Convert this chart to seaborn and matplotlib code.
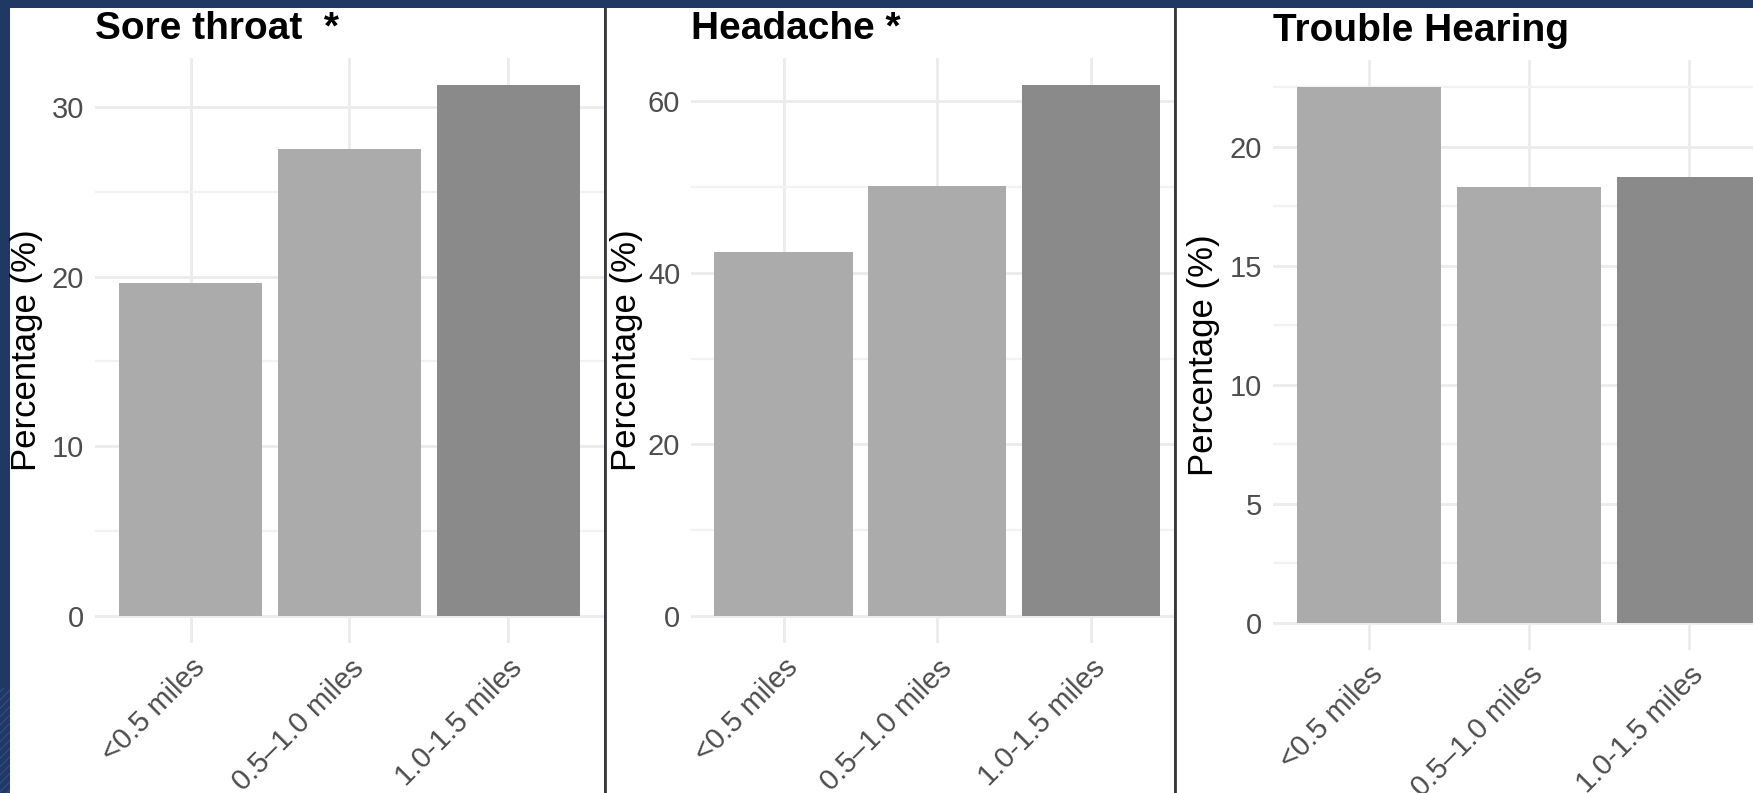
import matplotlib
matplotlib.use("Agg")
import matplotlib.pyplot as plt
import seaborn as sns
import pandas as pd
from matplotlib.patches import Rectangle
from matplotlib.lines import Line2D
from matplotlib.ticker import AutoMinorLocator

# %% — Data
distances = ["<0.5 miles", "0.5–1.0 miles", "1.0-1.5 miles"]
titles = ["Sore throat  *", "Headache *", "Trouble Hearing"]
sore_throat = [19.6, 27.5, 31.3]
headache = [42.4, 50.1, 61.9]
trouble_hearing = [22.5, 18.3, 18.7]
y_ticks = [[0, 10, 20, 30], [0, 20, 40, 60], [0, 5, 10, 15, 20]]
bar_colors = ["#ABABAB", "#ABABAB", "#8A8A8A"]

# %% — Layout in pixels of the 1753x793 canvas
W, H = 1753, 793
NAVY = "#1F3864"
# (left, right, top, bottom) of each plot area, right x-limit, y-label right edge
panel_px = [(95.2, 603.6, 58.2, 642.6), (691.4, 1174.0, 58.2, 642.6),
            (1273.0, 1753.0, 60.2, 649.5)]
x_right = [2.6, 2.54, 2.40]
ylab_px = [43, 643, 1220]
white_px = [(10, 604), (606, 1174), (1176, 1753)]
sep_px = [605, 1175]

sns.set_theme(style="whitegrid")
plt.rcParams["font.family"] = ["Liberation Sans", "DejaVu Sans"]

fig = plt.figure(figsize=(W / 100, H / 100), dpi=100)
fig.patch.set_facecolor(NAVY)

for x0, x1 in white_px:
    fig.add_artist(Rectangle((x0 / W, 0), (x1 - x0) / W, 1 - 8 / H,
                             transform=fig.transFigure, facecolor="white",
                             edgecolor="none", zorder=-1))
# hatched texture in the lower part of the left border
fig.add_artist(Rectangle((0, 0), 10 / W, (H - 688) / H, transform=fig.transFigure,
                         facecolor=NAVY, edgecolor="#34497A", hatch="////",
                         linewidth=0, zorder=-1))

all_values = [sore_throat, headache, trouble_hearing]

for i, (vals, title) in enumerate(zip(all_values, titles)):
    l, r, t, b = panel_px[i]
    ax = fig.add_axes([l / W, 1 - b / H, (r - l) / W, (b - t) / H])
    df = pd.DataFrame({"distance": distances, "pct": vals})
    sns.barplot(data=df, x="distance", y="pct", hue="distance",
                palette=bar_colors, width=0.9, legend=False, ax=ax,
                saturation=1, edgecolor="none")
    ymax = max(vals)
    ax.set_ylim(-0.05 * ymax, 1.05 * ymax)
    ax.set_xlim(-0.6, x_right[i])
    ax.set_yticks(y_ticks[i])
    ax.yaxis.set_minor_locator(AutoMinorLocator(2))
    ax.set_facecolor("white")
    ax.grid(True, which="major", color="#EBEBEB", linewidth=2)
    ax.grid(True, which="minor", axis="y", color="#F2F2F2", linewidth=1.6)
    ax.set_axisbelow(True)
    for s in ax.spines.values():
        s.set_visible(False)
    ax.tick_params(axis="both", which="both", length=0, labelsize=21,
                   labelcolor="#4D4D4D")
    ax.tick_params(axis="y", pad=8)
    ax.tick_params(axis="x", pad=8)
    plt.setp(ax.get_xticklabels(), rotation=45, ha="right", va="top",
             rotation_mode="anchor")
    ax.set_xlabel("")
    ax.set_ylabel("Percentage (%)", fontsize=25, color="black")
    ax.yaxis.set_label_coords((ylab_px[i] - l) / (r - l), 0.5)
    ax.set_title(title, loc="left", fontsize=28, fontweight="bold",
                 color="black", pad=14)

for x in sep_px:
    fig.add_artist(Line2D([x / W, x / W], [0, 1 - 8 / H], transform=fig.transFigure,
                          color="#3A3A3A", linewidth=2, zorder=5))

fig.savefig("out.png", dpi=100, facecolor=NAVY)
